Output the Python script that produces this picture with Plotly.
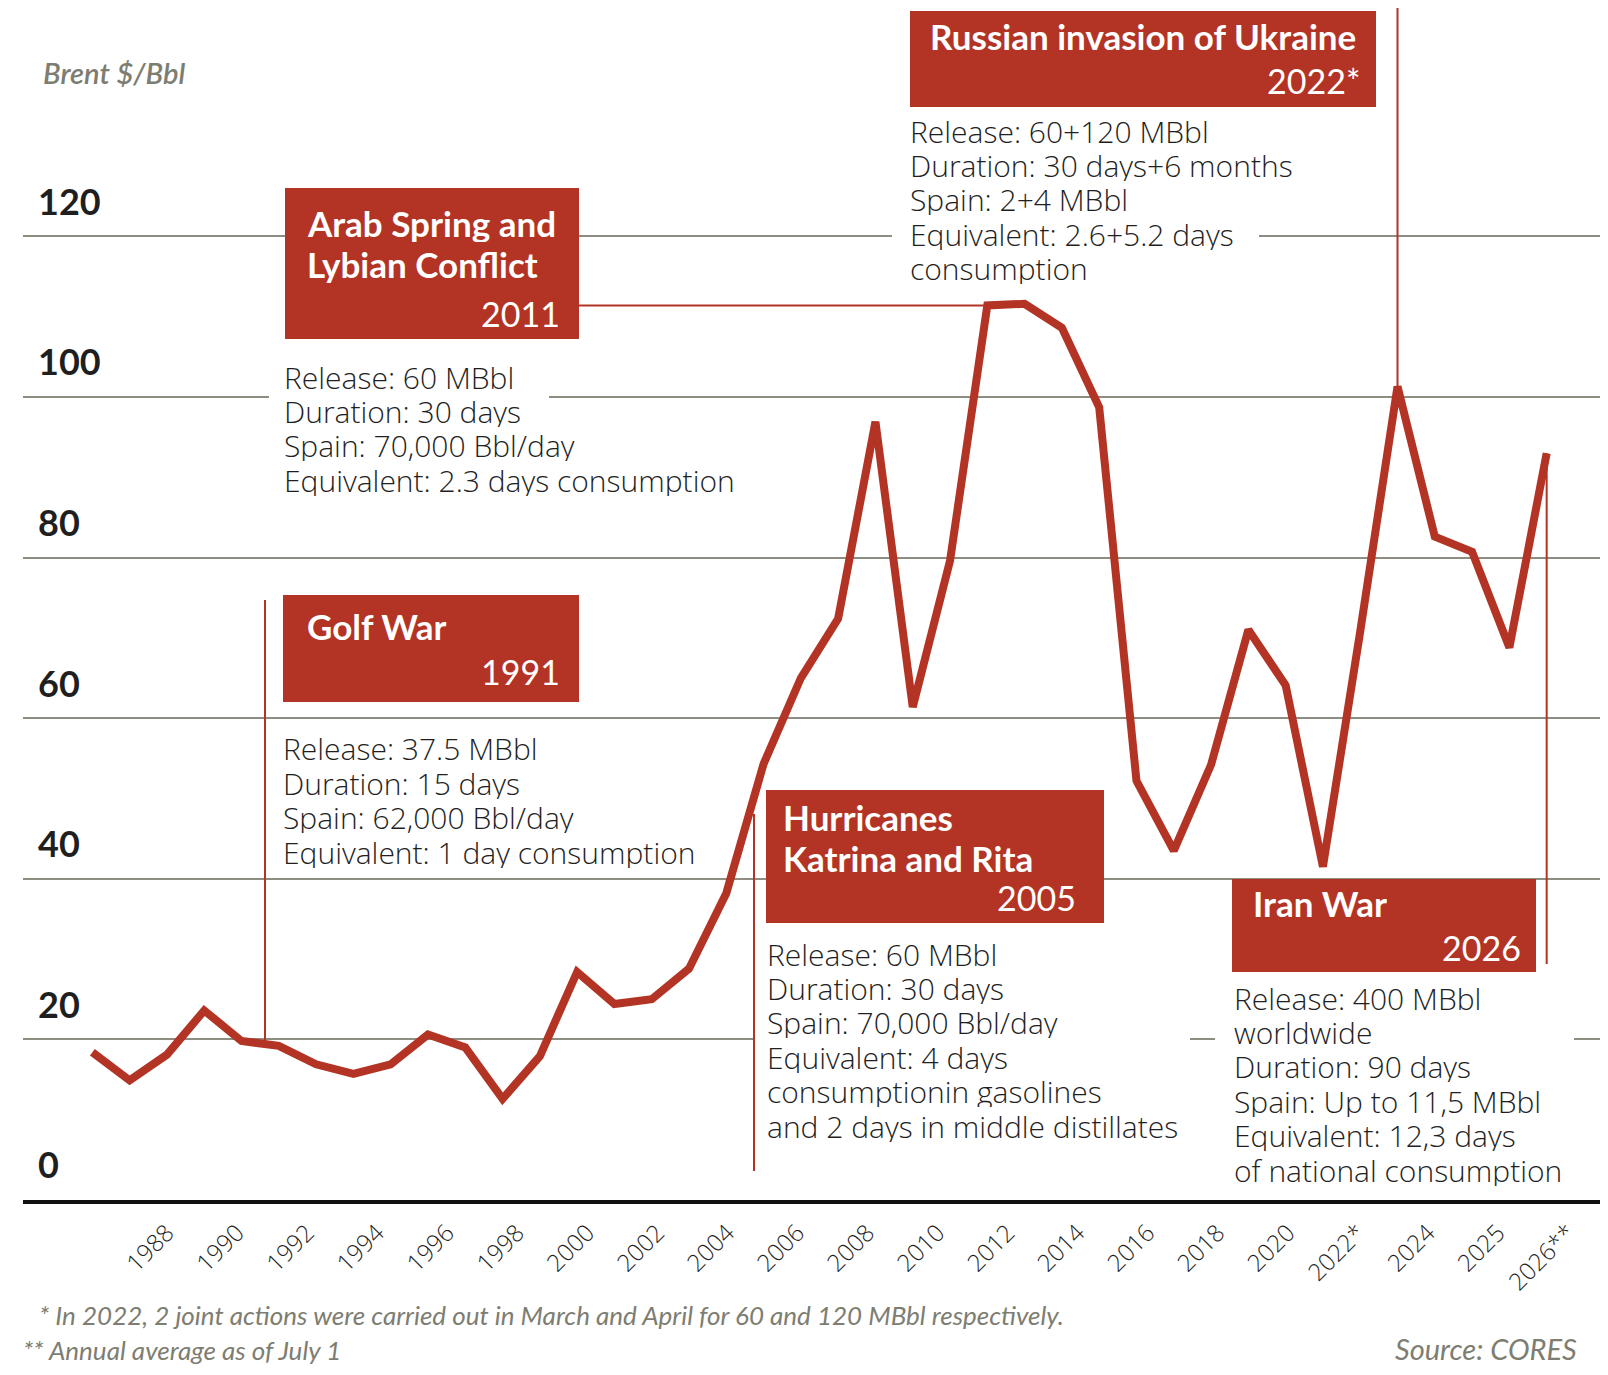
import plotly.graph_objects as go

# Brent annual average, $/Bbl
years = list(range(1987, 2027))
brent = [18.4, 14.9, 18.1, 23.6, 19.8, 19.2, 16.9, 15.7, 16.9, 20.6,
         19.0, 12.6, 17.9, 28.4, 24.4, 25.0, 28.8, 38.2, 54.3, 65.0,
         72.4, 96.9, 61.4, 79.6, 111.4, 111.6, 108.6, 98.7, 52.2, 43.5,
         54.2, 71.0, 64.1, 41.5, 70.8, 101.3, 82.6, 80.7, 68.8, 93.0]

tick_labels = ["1988", "1990", "1992", "1994", "1996", "1998", "2000", "2002",
               "2004", "2006", "2008", "2010", "2012", "2014", "2016", "2018",
               "2020", "2022*", "2024", "2025", "2026**"]
y_ticks = [0, 20, 40, 60, 80, 100, 120]

# event boxes: title lines, year, detail lines
events = [
    (["Russian invasion of Ukraine"], "2022*",
     ["Release: 60+120 MBbl", "Duration: 30 days+6 months", "Spain: 2+4 MBbl",
      "Equivalent: 2.6+5.2 days", "consumption"]),
    (["Arab Spring and", "Lybian Conflict"], "2011",
     ["Release: 60 MBbl", "Duration: 30 days", "Spain: 70,000 Bbl/day",
      "Equivalent: 2.3 days consumption"]),
    (["Golf War"], "1991",
     ["Release: 37.5 MBbl", "Duration: 15 days", "Spain: 62,000 Bbl/day",
      "Equivalent: 1 day consumption"]),
    (["Hurricanes", "Katrina and Rita"], "2005",
     ["Release: 60 MBbl", "Duration: 30 days", "Spain: 70,000 Bbl/day",
      "Equivalent: 4 days", "consumptionin gasolines",
      "and 2 days in middle distillates"]),
    (["Iran War"], "2026",
     ["Release: 400 MBbl", "worldwide", "Duration: 90 days",
      "Spain: Up to 11,5 MBbl", "Equivalent: 12,3 days",
      "of national consumption"]),
]

axis_title = "Brent $/Bbl"
footnote1 = "* In 2022, 2 joint actions were carried out in March and April for 60 and 120 MBbl respectively."
footnote2 = "** Annual average as of July 1"
source = "Source: CORES"

RED = "#b33424"
GRID = "#8d8d82"
INK = "#1f1f1f"
NOTE = "#7d7d72"

W, H = 1592, 1359
PL, PR, PT, PB = 15, 1592, 0, 1192
X_RANGE = [1985.14, 2027.43]
Y_RANGE = [0, 148.43]


# pixel -> paper / data helpers for the layout pieces
def xp(px):
    return (px - PL) / (PR - PL)


def yp(py):
    return (PB - py) / (PB - PT)


def dx(px):
    return X_RANGE[0] + xp(px) * (X_RANGE[1] - X_RANGE[0])


def dy(py):
    return Y_RANGE[0] + yp(py) * (Y_RANGE[1] - Y_RANGE[0])


fig = go.Figure()
fig.add_trace(go.Scatter(x=years, y=brent, mode="lines",
                         line=dict(color=RED, width=8), showlegend=False))
# invisible trace carrying the tick labels of the lower axis
fig.add_trace(go.Scatter(x=list(range(len(tick_labels))), y=[0] * len(tick_labels),
                         xaxis="x2", mode="markers", marker=dict(opacity=0),
                         hoverinfo="skip", showlegend=False))

shapes = []
# white masks that break the gridlines behind the text blocks
for x0, x1, y0, y1 in [(884, 1251, 212, 243), (261, 541, 377, 402),
                       (746, 1182, 1018, 1043), (1207, 1566, 1018, 1043)]:
    shapes.append(dict(type="rect", x0=dx(x0), x1=dx(x1), y0=dy(y1), y1=dy(y0),
                       fillcolor="white", line=dict(width=0), layer="between"))

# red title boxes
boxes = [(902, 1368, 3, 99), (277, 571, 180, 331), (275, 571, 587, 694),
         (758, 1096, 782, 915), (1224, 1528, 871, 964)]
for x0, x1, y0, y1 in boxes:
    shapes.append(dict(type="rect", x0=dx(x0), x1=dx(x1), y0=dy(y1), y1=dy(y0),
                       fillcolor=RED, line=dict(width=0), layer="between"))

# thin connectors
conn = dict(color=RED, width=2)
i2011, i2022 = years.index(2011), years.index(2022)
shapes += [
    dict(type="line", x0=2022, x1=2022, y0=brent[i2022], y1=Y_RANGE[1], line=conn),
    dict(type="line", x0=dx(571), x1=2011, y0=brent[i2011], y1=brent[i2011], line=conn),
    dict(type="line", x0=dx(257), x1=dx(257), y0=dy(1033), y1=dy(592), line=conn),
    dict(type="line", x0=dx(746), x1=dx(746), y0=dy(1163), y1=dy(806), line=conn),
    dict(type="line", x0=2026, x1=2026, y0=brent[-1], y1=dy(956), line=conn),
]

title_font = dict(family="Lato", size=35, color="white", weight="bold")
year_font = dict(family="Lato", size=34, color="white")
body_font = dict(family="Open Sans", size=30, color=INK, weight=300)
TITLE_STEP, BODY_STEP = 41, 34.4

# title left / first line centre, year right / centre, body left / first line centre
placement = [
    (920, 28, 1354, 72, 900, 123),
    (297, 215, 554, 305, 274, 369),
    (297, 618, 554, 663, 273, 741),
    (773, 809, 1070, 889, 757, 946),
    (1243, 895, 1515, 939, 1224, 990),
]

annotations = []
for (titles, year, body), (tx, ty, yx, yy, bx, by) in zip(events, placement):
    for k, line in enumerate(titles):
        annotations.append(dict(text=line, x=xp(tx), y=yp(ty + k * TITLE_STEP),
                                xanchor="left", yanchor="middle", height=38,
                                font=title_font))
    annotations.append(dict(text=year, x=xp(yx), y=yp(yy), xanchor="right",
                            yanchor="middle", font=year_font))
    for k, line in enumerate(body):
        annotations.append(dict(text=line, x=xp(bx), y=yp(by + k * BODY_STEP),
                                xanchor="left", yanchor="middle", height=31,
                                font=body_font))

note_font = dict(family="Lato", size=26, color=NOTE, style="italic")
annotations += [
    dict(text=axis_title, x=xp(33), y=yp(64), xanchor="left", yanchor="middle",
         font=dict(family="Lato", size=29, color=NOTE, style="italic", weight=600)),
    dict(text=footnote1, x=xp(29), y=yp(1307), xanchor="left", yanchor="middle", font=note_font),
    dict(text=footnote2, x=xp(13), y=yp(1342), xanchor="left", yanchor="middle", font=note_font),
    dict(text=source, x=xp(1571), y=yp(1340), xanchor="right", yanchor="middle",
         font=dict(family="Lato", size=29, color=NOTE, style="italic")),
]
for a in annotations:
    a.update(xref="paper", yref="paper", showarrow=False)

fig.update_layout(
    width=W, height=H, autosize=False,
    margin=dict(l=PL, r=W - PR, t=PT, b=H - PB),
    paper_bgcolor="white", plot_bgcolor="white",
    xaxis=dict(range=X_RANGE, showticklabels=False, showgrid=False, zeroline=False,
               showline=True, linecolor="#111111", linewidth=4, ticks=""),
    xaxis2=dict(overlaying="x", side="bottom", anchor="y",
                range=[-2.056, 20.456], tickvals=list(range(len(tick_labels))),
                ticktext=tick_labels, tickangle=-45, showgrid=False, zeroline=False,
                showline=False, ticks="", ticklabelstandoff=13,
                tickfont=dict(family="Open Sans", size=24, color=INK, weight=300)),
    yaxis=dict(range=Y_RANGE, tickvals=y_ticks, showgrid=True, gridcolor=GRID, gridwidth=2,
               zeroline=False, ticks="", ticklabelposition="inside top",
               ticklabelstandoff=12, ticklabelshift=-9, ticklabeloverflow="allow",
               tickfont=dict(family="Lato", size=36, color=INK, weight="bold")),
    shapes=shapes,
    annotations=annotations,
)

fig.write_html("out.html")
